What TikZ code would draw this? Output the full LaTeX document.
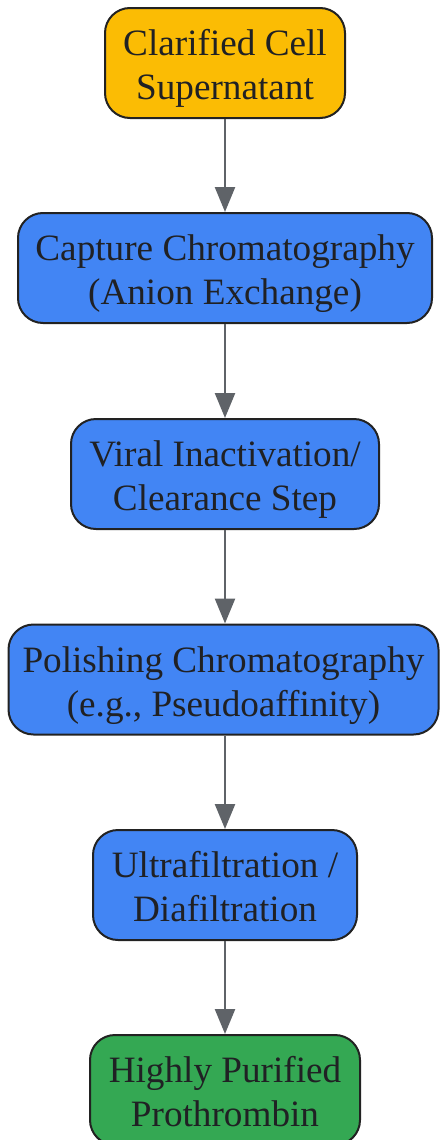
\documentclass[tikz,border=0pt]{standalone}
\usepackage{fontspec}
\setmainfont{Liberation Serif}
\usetikzlibrary{arrows.meta}
\definecolor{orangefill}{HTML}{FBBC04}
\definecolor{bluefill}{HTML}{4285F4}
\definecolor{greenfill}{HTML}{34A853}
\definecolor{edgegray}{HTML}{5F6368}
\definecolor{textdark}{HTML}{202124}
\definecolor{borderdark}{HTML}{222222}
\newcommand{\twolines}[2]{\raisebox{-3pt}[\height][\depth]{\begin{tabular}{@{}c@{}}#1\\#2\end{tabular}}}
\tikzset{
  stepbox/.style={draw=borderdark, line width=1pt, rounded corners=12.5pt,
    inner sep=0pt, minimum height=55pt, align=center, text=textdark,
    font=\fontsize{18.6pt}{22pt}\selectfont},
  flow/.style={draw=edgegray, line width=1.25pt, -{Triangle[width=10pt,length=12.5pt]}}
}
\begin{document}
\begin{tikzpicture}[x=0.5pt,y=-0.5pt]
\useasboundingbox (0,0) rectangle (439,1140);
\node[stepbox, fill=orangefill, minimum width=120pt] (n1) at (225,63) {\twolines{Clarified Cell}{Supernatant}};
\node[stepbox, fill=bluefill, minimum width=207pt] (n2) at (225,268) {\twolines{Capture Chromatography}{(Anion Exchange)}};
\node[stepbox, fill=bluefill, minimum width=154pt] (n3) at (225,474) {\twolines{Viral Inactivation/}{Clearance Step}};
\node[stepbox, fill=bluefill, minimum width=215pt] (n4) at (223.5,679.5) {\twolines{Polishing Chromatography}{(e.g., Pseudoaffinity)}};
\node[stepbox, fill=bluefill, minimum width=132pt] (n5) at (225,885) {\twolines{Ultrafiltration /}{Diafiltration}};
\node[stepbox, fill=greenfill, minimum width=135pt] (n6) at (225,1090) {\twolines{Highly Purified}{Prothrombin}};
\draw[flow] (n1.south) -- (n2.north);
\draw[flow] (n2.south) -- (n3.north);
\draw[flow] (n3.south) -- (n4.north -| n3.south);
\draw[flow] (n4.south -| n5.north) -- (n5.north);
\draw[flow] (n5.south) -- (n6.north);
\end{tikzpicture}
\end{document}
